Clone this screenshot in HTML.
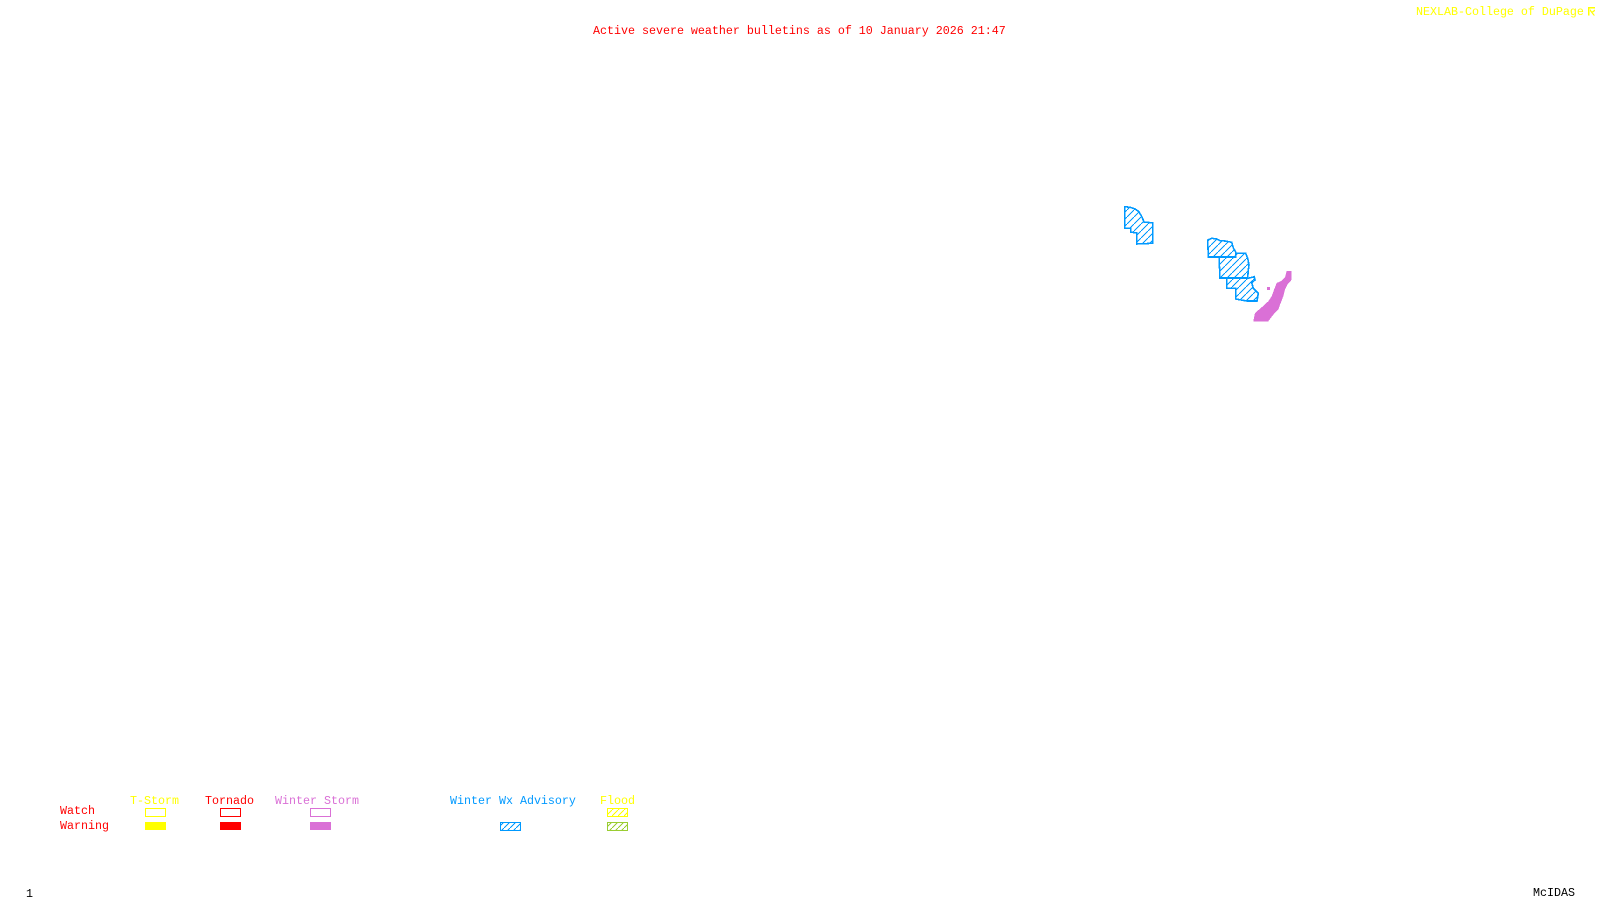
<!DOCTYPE html>
<html>
<head>
<meta charset="utf-8">
<style>
html,body{margin:0;padding:0;background:#fff;width:1600px;height:900px;overflow:hidden}
svg{display:block}
text{font-family:"Liberation Mono",monospace;font-size:11.67px;white-space:pre}
</style>
</head>
<body>
<svg width="1600" height="900" viewBox="0 0 1600 900" xmlns="http://www.w3.org/2000/svg">
<defs>
<pattern id="hp" width="7" height="7" patternUnits="userSpaceOnUse"><path d="M-1 8L8 -1" stroke="#0099ff" stroke-width="1" fill="none" shape-rendering="crispEdges"/></pattern>
<pattern id="hb" width="6" height="6" patternUnits="userSpaceOnUse"><path d="M-1 7L7 -1" stroke="#0099ff" stroke-width="1" fill="none" shape-rendering="crispEdges"/></pattern>
<pattern id="hy" width="6" height="6" patternUnits="userSpaceOnUse"><path d="M-1 7L7 -1" stroke="#ffff00" stroke-width="1" fill="none" shape-rendering="crispEdges"/></pattern>
<pattern id="hg" width="6" height="6" patternUnits="userSpaceOnUse"><path d="M-1 7L7 -1" stroke="#9acd32" stroke-width="1" fill="none" shape-rendering="crispEdges"/></pattern>
</defs>

<text x="593" y="34" fill="#ff0000">Active severe weather bulletins as of 10 January 2026 21:47</text>
<text x="1416" y="15" fill="#ffff00">NEXLAB-College of DuPage</text>
<path d="M1588 15.5V7H1595V8.5H1589.5V15.5ZM1590 9L1595 15.5H1593.5L1590 11ZM1592 11.5L1595 9.5V11L1593 12.5Z" fill="#ffff00"/>

<g fill="url(#hp)" stroke="#0099ff" stroke-width="1.6" stroke-linejoin="miter" shape-rendering="crispEdges">
<polygon points="1124.7,206.7 1130,207.3 1135,209 1139,211.7 1141.7,216.7 1144.3,222.3 1152.7,222.7 1152.7,243.3 1136.7,244 1136.7,232.7 1130.7,232.3 1130.7,228.3 1124.7,228.3"/>
<polygon points="1207.7,240 1211.7,238.3 1216.7,239 1220,240.7 1225,241 1231.7,242.3 1233.3,248 1235.7,252 1235.7,257 1208.3,257"/>
<polygon points="1219,257 1235.7,257 1235.7,253.3 1245.7,253.3 1247.7,258.3 1249,265 1248.3,270 1247.7,278 1220,278"/>
<polygon points="1226.7,278.3 1248.3,278.3 1254.3,276.7 1255,280 1251.7,282.7 1253.3,288.3 1258.3,293.3 1257,301 1246.7,301 1235.7,299 1235.7,288.3 1226.7,288.3"/>
</g>

<polygon fill="#da70d6" shape-rendering="crispEdges" points="1286.7,271 1285,277.3 1281.7,280.7 1276.7,283 1274,289.7 1271.7,296.3 1268.3,301.3 1261.7,307.3 1255,313 1253.3,321.3 1268.3,321.3 1273.3,314.7 1278.3,309.7 1280.7,303 1283.3,296.3 1285,289.7 1287.3,284.7 1291.7,279.7 1291.7,271"/>
<rect x="1267" y="287" width="3" height="3" fill="#da70d6"/>

<text x="130" y="804" fill="#ffff00">T-Storm</text>
<text x="205" y="804" fill="#ff0000">Tornado</text>
<text x="275" y="804" fill="#da70d6">Winter Storm</text>
<text x="450" y="804" fill="#0099ff">Winter Wx Advisory</text>
<text x="600" y="804" fill="#ffff00">Flood</text>
<text x="60" y="814" fill="#ff0000">Watch</text>
<text x="60" y="829" fill="#ff0000">Warning</text>

<rect x="145.5" y="808.5" width="20" height="8" fill="none" stroke="#ffff00"/>
<rect x="220.5" y="808.5" width="20" height="8" fill="none" stroke="#ff0000"/>
<rect x="310.5" y="808.5" width="20" height="8" fill="none" stroke="#da70d6"/>
<rect x="607.5" y="808.5" width="20" height="8" fill="url(#hy)" stroke="#ffff00"/>
<rect x="145" y="822" width="21" height="8" fill="#ffff00"/>
<rect x="220" y="822" width="21" height="8" fill="#ff0000"/>
<rect x="310" y="822" width="21" height="8" fill="#da70d6"/>
<rect x="500.5" y="822.5" width="20" height="8" fill="url(#hb)" stroke="#0099ff"/>
<rect x="607.5" y="822.5" width="20" height="8" fill="url(#hg)" stroke="#9acd32"/>

<text x="26" y="897" fill="#000">1</text>
<text x="1533" y="896" fill="#000">McIDAS</text>
</svg>
</body>
</html>
